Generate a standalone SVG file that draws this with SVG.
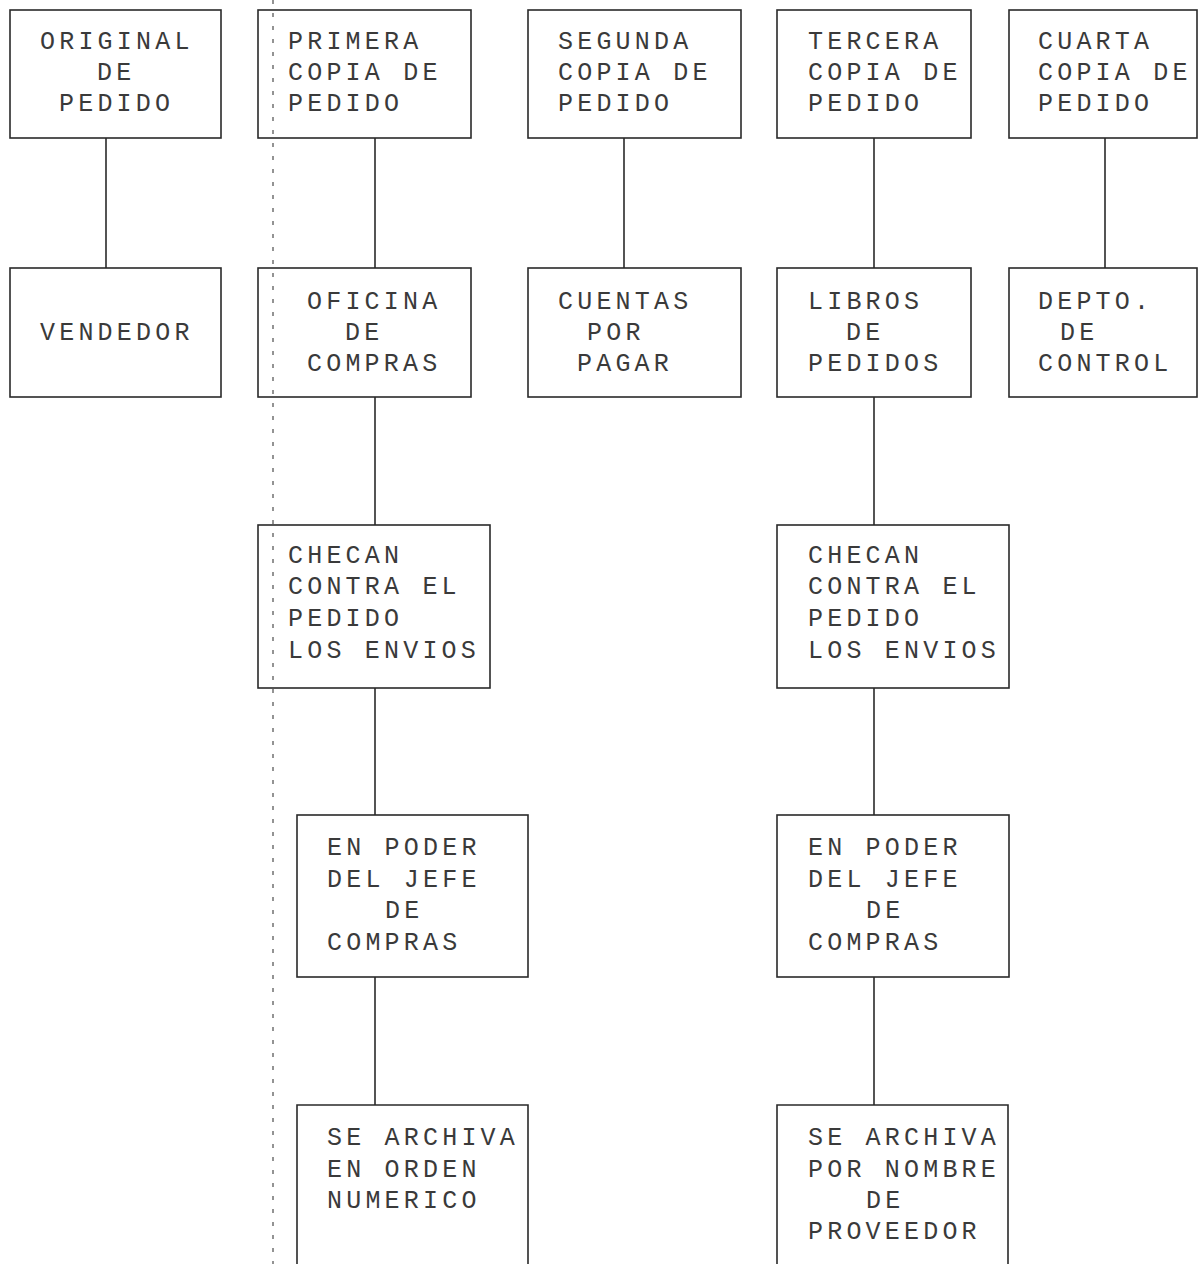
<svg xmlns="http://www.w3.org/2000/svg" width="1199" height="1264" viewBox="0 0 1199 1264">
<style>
  .box { fill: none; stroke: #2a2a2a; stroke-width: 1.6; }
  .conn { fill: none; stroke: #2a2a2a; stroke-width: 1.6; }
  .t { font-family: "Liberation Mono", "DejaVu Sans Mono", monospace; font-size: 25px; letter-spacing: 4.2px; fill: #3a3a3a; }
  .fold { fill: none; stroke: #666; stroke-width: 1.4; stroke-dasharray: 4 9; }
</style>
<rect width="1199" height="1264" fill="#ffffff"/>
<line class="fold" x1="273" y1="0" x2="273" y2="1264"/>
<g id="connectors">
  <line class="conn" x1="106" y1="138" x2="106" y2="268"/>
  <line class="conn" x1="375" y1="138" x2="375" y2="268"/>
  <line class="conn" x1="624" y1="138" x2="624" y2="268"/>
  <line class="conn" x1="874" y1="138" x2="874" y2="268"/>
  <line class="conn" x1="1105" y1="138" x2="1105" y2="268"/>
  <line class="conn" x1="375" y1="397" x2="375" y2="525"/>
  <line class="conn" x1="375" y1="688" x2="375" y2="815"/>
  <line class="conn" x1="375" y1="977" x2="375" y2="1105"/>
  <line class="conn" x1="874" y1="397" x2="874" y2="525"/>
  <line class="conn" x1="874" y1="688" x2="874" y2="815"/>
  <line class="conn" x1="874" y1="977" x2="874" y2="1105"/>
</g>
<g id="original">
  <rect class="box" x="10" y="10" width="211" height="128"/>
  <text class="t" x="40" y="49">ORIGINAL</text>
  <text class="t" x="97" y="80">DE</text>
  <text class="t" x="59" y="111">PEDIDO</text>
</g>
<g id="primera">
  <rect class="box" x="258" y="10" width="213" height="128"/>
  <text class="t" x="288" y="49">PRIMERA</text>
  <text class="t" x="288" y="80">COPIA DE</text>
  <text class="t" x="288" y="111">PEDIDO</text>
</g>
<g id="segunda">
  <rect class="box" x="528" y="10" width="213" height="128"/>
  <text class="t" x="558" y="49">SEGUNDA</text>
  <text class="t" x="558" y="80">COPIA DE</text>
  <text class="t" x="558" y="111">PEDIDO</text>
</g>
<g id="tercera">
  <rect class="box" x="777" y="10" width="194" height="128"/>
  <text class="t" x="808" y="49">TERCERA</text>
  <text class="t" x="808" y="80">COPIA DE</text>
  <text class="t" x="808" y="111">PEDIDO</text>
</g>
<g id="cuarta">
  <rect class="box" x="1009" y="10" width="188" height="128"/>
  <text class="t" x="1038" y="49">CUARTA</text>
  <text class="t" x="1038" y="80">COPIA DE</text>
  <text class="t" x="1038" y="111">PEDIDO</text>
</g>
<g id="vendedor">
  <rect class="box" x="10" y="268" width="211" height="129"/>
  <text class="t" x="40" y="340">VENDEDOR</text>
</g>
<g id="oficina">
  <rect class="box" x="258" y="268" width="213" height="129"/>
  <text class="t" x="307" y="309">OFICINA</text>
  <text class="t" x="345" y="340">DE</text>
  <text class="t" x="307" y="371">COMPRAS</text>
</g>
<g id="cuentas">
  <rect class="box" x="528" y="268" width="213" height="129"/>
  <text class="t" x="558" y="309">CUENTAS</text>
  <text class="t" x="587" y="340">POR</text>
  <text class="t" x="577" y="371">PAGAR</text>
</g>
<g id="libros">
  <rect class="box" x="777" y="268" width="194" height="129"/>
  <text class="t" x="808" y="309">LIBROS</text>
  <text class="t" x="846" y="340">DE</text>
  <text class="t" x="808" y="371">PEDIDOS</text>
</g>
<g id="depto">
  <rect class="box" x="1009" y="268" width="188" height="129"/>
  <text class="t" x="1038" y="309">DEPTO.</text>
  <text class="t" x="1060" y="340">DE</text>
  <text class="t" x="1038" y="371">CONTROL</text>
</g>
<g id="checan1">
  <rect class="box" x="258" y="525" width="232" height="163"/>
  <text class="t" x="288" y="563">CHECAN</text>
  <text class="t" x="288" y="594">CONTRA EL</text>
  <text class="t" x="288" y="626">PEDIDO</text>
  <text class="t" x="288" y="658">LOS ENVIOS</text>
</g>
<g id="checan2">
  <rect class="box" x="777" y="525" width="232" height="163"/>
  <text class="t" x="808" y="563">CHECAN</text>
  <text class="t" x="808" y="594">CONTRA EL</text>
  <text class="t" x="808" y="626">PEDIDO</text>
  <text class="t" x="808" y="658">LOS ENVIOS</text>
</g>
<g id="poder1">
  <rect class="box" x="297" y="815" width="231" height="162"/>
  <text class="t" x="327" y="855">EN PODER</text>
  <text class="t" x="327" y="887">DEL JEFE</text>
  <text class="t" x="385" y="918">DE</text>
  <text class="t" x="327" y="950">COMPRAS</text>
</g>
<g id="poder2">
  <rect class="box" x="777" y="815" width="232" height="162"/>
  <text class="t" x="808" y="855">EN PODER</text>
  <text class="t" x="808" y="887">DEL JEFE</text>
  <text class="t" x="866" y="918">DE</text>
  <text class="t" x="808" y="950">COMPRAS</text>
</g>
<g id="archiva1">
  <path class="box" d="M297,1264 V1105 H528 V1264"/>
  <text class="t" x="327" y="1145">SE ARCHIVA</text>
  <text class="t" x="327" y="1177">EN ORDEN</text>
  <text class="t" x="327" y="1208">NUMERICO</text>
</g>
<g id="archiva2">
  <path class="box" d="M777,1264 V1105 H1008 V1264"/>
  <text class="t" x="808" y="1145">SE ARCHIVA</text>
  <text class="t" x="808" y="1177">POR NOMBRE</text>
  <text class="t" x="866" y="1208">DE</text>
  <text class="t" x="808" y="1239">PROVEEDOR</text>
</g>
</svg>
